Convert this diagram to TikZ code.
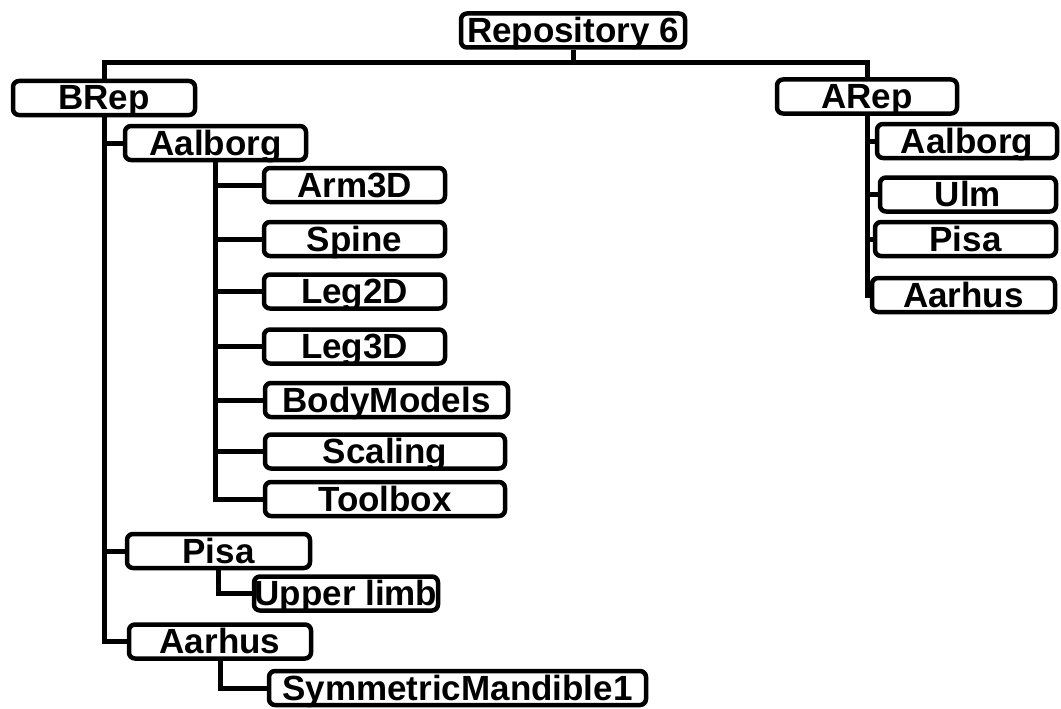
\documentclass[tikz,border=0pt]{standalone}
\usepackage{fontspec}
\setmainfont{Liberation Sans}
\begin{document}
\begin{tikzpicture}[x=1pt,y=-1pt,
  box/.style={draw, line width=4.5pt, rounded corners=6pt, fill=white, inner sep=0pt,
    text height=29pt, text depth=5pt, minimum width=#1,
    font=\fontsize{35}{35}\selectfont\bfseries, anchor=center},
  link/.style={draw, line width=5pt}]
\useasboundingbox (0,0) rectangle (1061,709);
% nodes
\node[box=224pt] (rep) at (573,30.5) {Repository 6};
\node[box=182pt] (brep) at (104,98) {BRep};
\node[box=181pt] (balb) at (215.5,143) {Aalborg};
\node[box=181pt] (arm) at (354.5,185) {Arm3D};
\node[box=181pt] (spine) at (354.5,239) {Spine};
\node[box=181pt] (leg2) at (354.5,291.5) {Leg2D};
\node[box=181pt] (leg3) at (354.5,346.5) {Leg3D};
\node[box=243pt] (body) at (386.5,400) {BodyModels};
\node[box=240pt] (scal) at (385,451.5) {Scaling};
\node[box=240pt] (tool) at (385,499) {Toolbox};
\node[box=183pt] (bpisa) at (218.5,551) {Pisa};
\node[box=184pt] (upper) at (346,593.5) {Upper limb};
\node[box=182pt] (baar) at (220,641.5) {Aarhus};
\node[box=377pt] (sym) at (457.5,688) {SymmetricMandible1};
\node[box=180pt] (arep) at (867,96.5) {ARep};
\node[box=180pt] (aalb) at (967,141) {Aalborg};
\node[box=176pt] (ulm) at (968,194.5) {Ulm};
\node[box=181pt] (apisa) at (965.5,239) {Pisa};
\node[box=183pt] (aaar) at (963.5,295) {Aarhus};
% connectors
\draw[link] (rep.south) -- ++(0,13) coordinate (j);
\draw[link] (brep.north) |- (j) -| (arep.north);
\draw[link] (brep.south) |- (balb.west);
\draw[link] (brep.south) |- (bpisa.west);
\draw[link] (brep.south) |- (baar.west);
\draw[link] (balb.south) |- (arm.west);
\draw[link] (balb.south) |- (spine.west);
\draw[link] (balb.south) |- (leg2.west);
\draw[link] (balb.south) |- (leg3.west);
\draw[link] (balb.south) |- (body.west);
\draw[link] (balb.south) |- (scal.west);
\draw[link] (balb.south) |- (tool.west);
\draw[link] (bpisa.south) |- (upper.west);
\draw[link] (baar.south) |- (sym.west);
\draw[link] (arep.south) |- (aalb.west);
\draw[link] (arep.south) |- (ulm.west);
\draw[link] (arep.south) |- (apisa.west);
\draw[link] (arep.south) |- (aaar.west);
\end{tikzpicture}
\end{document}
